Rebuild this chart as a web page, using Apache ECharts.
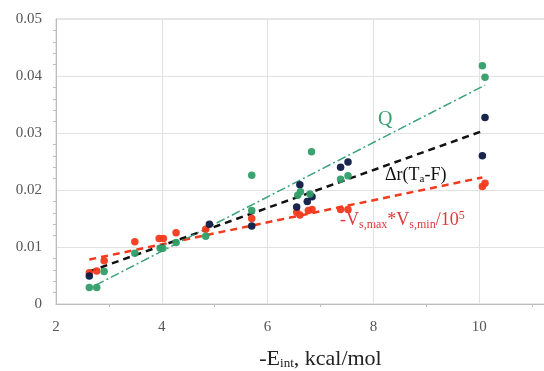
<!DOCTYPE html>
<html>
<head>
<meta http-equiv="content-type" content="text/html; charset=UTF-8">
<title>Eint correlation</title>
<script src="https://cdn.jsdelivr.net/npm/echarts@6/dist/echarts.min.js"></script>
<style>
  html, body { margin: 0; padding: 0; background: #fff; }
</style>
</head>
<body>
	<div id="main" style="width: 544px; height: 371px;"></div>
	<script type="text/javascript">

        // points: [ -Eint, value ]
        var qPoints = [
            [2.63, 0.0029], [2.77, 0.0029], [2.91, 0.0057], [3.49, 0.0089],
            [3.97, 0.0098], [4.02, 0.0098], [4.27, 0.0108], [4.83, 0.0119],
            [5.70, 0.0226], [5.70, 0.0164], [6.57, 0.0191], [6.62, 0.0197],
            [6.80, 0.0193], [6.83, 0.0267], [7.38, 0.0219], [7.52, 0.0225],
            [10.06, 0.0418], [10.11, 0.0398]
        ];
        var drPoints = [
            [2.63, 0.0049], [4.90, 0.0140], [5.70, 0.0137], [6.55, 0.0170],
            [6.61, 0.0209], [6.75, 0.0180], [6.84, 0.0188], [7.38, 0.0240],
            [7.52, 0.0249], [10.06, 0.0260], [10.11, 0.0327]
        ];
        var vPoints = [
            [2.63, 0.0055], [2.77, 0.0058], [2.91, 0.0076], [3.49, 0.0109],
            [3.95, 0.0115], [4.03, 0.0115], [4.27, 0.0125], [4.83, 0.0131],
            [5.70, 0.0150], [6.55, 0.0161], [6.61, 0.0156], [6.77, 0.0164],
            [6.84, 0.0166], [7.38, 0.0166], [7.52, 0.0166], [10.06, 0.0206],
            [10.11, 0.0212]
        ];

        // trend line ends, as drawn in the picture
        var qFit = [[2.75, 0.0033], [10.11, 0.0384]];
        var drFit = [[2.63, 0.0057], [10.02, 0.0302]];
        var vFit = [[2.63, 0.0078], [10.06, 0.0222]];

        var green = '#2f9e68', navy = '#0c1a44', red = '#f23a1c';
        var serif = 'Liberation Serif';

        var myChart = echarts.init(document.getElementById('main'));

        function fitLine(data, color, width, dash) {
            return {
                type: 'line', data: data, symbol: 'none', silent: true, z: 3,
                lineStyle: { color: color, width: width, type: dash }
            };
        }
        function dots(data, color) {
            return {
                type: 'scatter', data: data, symbolSize: 7.5, z: 4,
                itemStyle: { color: color, opacity: 0.95 }
            };
        }

        var option = {
            animation: false,
            grid: {
                left: 56, top: 19, bottom: 67, right: -41,
                outerBoundsMode: 'none', containLabel: false,
                show: true, borderColor: '#cfcfcf', borderWidth: 1
            },
            xAxis: {
                type: 'value', min: 2, max: 12, interval: 2,
                name: '{a|-E}{s|int}{a|, kcal/mol}', nameLocation: 'middle', nameGap: 44,
                nameTextStyle: {
                    rich: {
                        a: { fontFamily: serif, fontSize: 22, color: '#222' },
                        s: { fontFamily: serif, fontSize: 13, color: '#222', verticalAlign: 'bottom', padding: [9, 0, 0, 0] }
                    }
                },
                axisLine: { lineStyle: { color: '#bdbdbd' } },
                axisTick: { show: false },
                minorTick: { show: true, splitNumber: 2, length: 3, lineStyle: { color: '#bdbdbd' } },
                splitLine: { lineStyle: { color: '#e2e2e2' } },
                axisLabel: { fontFamily: serif, fontSize: 15, color: '#555', margin: 16 }
            },
            yAxis: {
                type: 'value', min: 0, max: 0.05, interval: 0.01,
                axisLine: { show: true, lineStyle: { color: '#bdbdbd' } },
                axisTick: { show: false },
                minorTick: { show: true, splitNumber: 5, length: 3, lineStyle: { color: '#bdbdbd' } },
                splitLine: { lineStyle: { color: '#e2e2e2' } },
                axisLabel: {
                    fontFamily: serif, fontSize: 15, color: '#555', margin: 14,
                    formatter: function (v) { return v === 0 ? '0' : v.toFixed(2); }
                }
            },
            series: [
                fitLine(vFit, red, 2.5, [7, 5]),
                fitLine(drFit, '#111', 2.5, [7, 5]),
                fitLine(qFit, '#3aa37a', 1.5, [9, 3, 2, 3]),
                dots(vPoints, red),
                dots(drPoints, navy),
                dots(qPoints, green)
            ],
            graphic: [
                {
                    type: 'text', left: 378, top: 110,
                    style: { text: 'Q', fontFamily: serif, fontSize: 20, fill: '#3aa070' }
                },
                {
                    type: 'text', left: 385, top: 166,
                    style: {
                        text: '{a|Δr(T}{s|a}{a|-F)}',
                        rich: {
                            a: { fontFamily: serif, fontSize: 18, fill: '#111' },
                            s: { fontFamily: serif, fontSize: 11, fill: '#111', padding: [9, 0, 0, 0] }
                        }
                    }
                },
                {
                    type: 'text', left: 340, top: 210,
                    style: {
                        text: '{a|-V}{s|s,max}{a|*V}{s|s,min}{a|/10}{p|5}',
                        rich: {
                            a: { fontFamily: serif, fontSize: 18, fill: '#e0363c' },
                            s: { fontFamily: serif, fontSize: 12, fill: '#e0363c', padding: [10, 0, 0, 0] },
                            p: { fontFamily: serif, fontSize: 12, fill: '#e0363c', padding: [0, 0, 8, 0] }
                        }
                    }
                }
            ]
        };

        myChart.setOption(option);

    </script>
</body>
</html>
